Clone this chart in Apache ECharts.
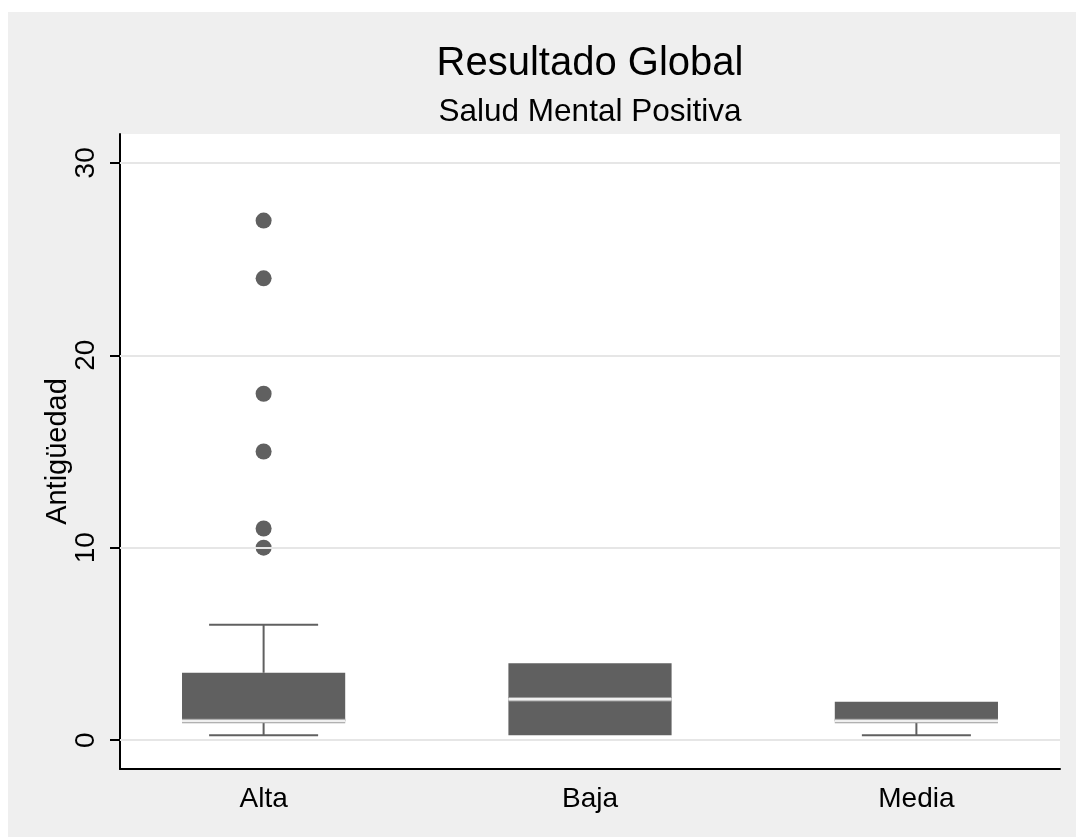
<!DOCTYPE html>
<html>
<head>
<meta charset="utf-8">
<script src="https://cdn.jsdelivr.net/npm/echarts@6/dist/echarts.min.js"></script>
<style>
  html, body { margin: 0; padding: 0; background: #ffffff; }
  #panel { position: absolute; left: 8px; top: 12px; width: 1068px; height: 825px; background: #efefef; }
  #chart { position: absolute; left: 0; top: 0; width: 1076px; height: 839px; }
</style>
</head>
<body>
<div id="panel"></div>
<div id="chart"></div>
<script>
// Antigüedad by "Salud Mental Positiva" group
const categories = ['Alta', 'Baja', 'Media'];
const whiskerLow = [0.25, 0.25, 0.25];
const quartile1 = [1, 0.25, 1];
const medians = [1, 2.125, 1];
const quartile3 = [3.5, 4, 2];
const whiskerHigh = [6, 4, 2];
const outlierGroup = [0, 0, 0, 0, 0, 0];
const outlierValues = [27, 24, 18, 15, 11, 10];
const yTicks = [0, 10, 20, 30];

const FONT = '"Liberation Sans", Arial, sans-serif';
const BOX = '#606060';

const boxData = categories.map((c, i) => [i, whiskerLow[i], quartile1[i], medians[i], quartile3[i], whiskerHigh[i]]);
const outliers = outlierValues.map((v, i) => [outlierGroup[i], v]);

function renderBox(params, api) {
  const x = api.value(0);
  const lo = api.coord([x, api.value(1)]);
  const q1 = api.coord([x, api.value(2)]);
  const md = api.coord([x, api.value(3)]);
  const q3 = api.coord([x, api.value(4)]);
  const hi = api.coord([x, api.value(5)]);
  const halfBox = api.size([0.25, 0])[0];
  const halfCap = api.size([0.167, 0])[0];
  const cx = q1[0];
  const lineStyle = { stroke: BOX, lineWidth: 2, fill: null };
  const children = [];
  if (api.value(5) > api.value(4)) {
    children.push({ type: 'line', shape: { x1: cx, y1: q3[1], x2: cx, y2: hi[1] }, style: lineStyle });
    children.push({ type: 'line', shape: { x1: cx - halfCap, y1: hi[1], x2: cx + halfCap, y2: hi[1] }, style: lineStyle });
  }
  if (api.value(1) < api.value(2)) {
    children.push({ type: 'line', shape: { x1: cx, y1: q1[1], x2: cx, y2: lo[1] }, style: lineStyle });
    children.push({ type: 'line', shape: { x1: cx - halfCap, y1: lo[1], x2: cx + halfCap, y2: lo[1] }, style: lineStyle });
  }
  children.push({ type: 'rect', shape: { x: cx - halfBox, y: q3[1], width: 2 * halfBox, height: q1[1] - q3[1] }, style: { fill: BOX } });
  children.push({ type: 'line', shape: { x1: cx - halfBox, y1: md[1], x2: cx + halfBox, y2: md[1] }, style: { stroke: '#9c9c9c', lineWidth: 4.5 } });
  children.push({ type: 'line', shape: { x1: cx - halfBox, y1: md[1], x2: cx + halfBox, y2: md[1] }, style: { stroke: '#f0f0f0', lineWidth: 2.5 } });
  return { type: 'group', children };
}

const chart = echarts.init(document.getElementById('chart'), null, { renderer: 'canvas' });
chart.setOption({
  backgroundColor: 'transparent',
  animation: false,
  textStyle: { fontFamily: FONT },
  graphic: [
    { type: 'text', x: 590, y: 63.5, style: { text: 'Resultado Global', font: '40px ' + FONT, fill: '#000', align: 'center', verticalAlign: 'middle' } },
    { type: 'text', x: 590, y: 112, style: { text: 'Salud Mental Positiva', font: '31.5px ' + FONT, fill: '#000', align: 'center', verticalAlign: 'middle' } }
  ],
  grid: { left: 120, right: 16, top: 134, bottom: 70, show: true, backgroundColor: '#ffffff', borderWidth: 0 },
  xAxis: {
    type: 'value', min: -0.44, max: 2.44,
    axisLine: { onZero: false, lineStyle: { color: '#000', width: 2 } },
    axisTick: { show: false },
    splitLine: { show: false },
    axisLabel: {
      customValues: [0, 1, 2],
      formatter: v => categories[Math.round(v)],
      fontSize: 28, color: '#000', fontFamily: FONT, margin: 16
    }
  },
  yAxis: {
    type: 'value', min: -1.5, max: 31.5,
    name: 'Antigüedad', nameLocation: 'middle', nameGap: 48, nameRotate: 90,
    nameMoveOverlap: false,
    nameTextStyle: { fontSize: 29, color: '#000', fontFamily: FONT },
    axisLine: { onZero: false, lineStyle: { color: '#000', width: 2 } },
    axisTick: { customValues: yTicks, length: 10, lineStyle: { color: '#000', width: 2 } },
    axisLabel: { customValues: yTicks, rotate: 90, fontSize: 28, color: '#000', fontFamily: FONT, margin: 20 },
    splitLine: { show: false }
  },
  series: [
    {
      type: 'line', data: [], z: 1, silent: true,
      markLine: {
        symbol: 'none', silent: true, label: { show: false },
        lineStyle: { color: '#e6e6e6', width: 2, type: 'solid' },
        data: yTicks.map(v => ({ yAxis: v }))
      }
    },
    { type: 'custom', data: boxData, renderItem: renderBox, z: 3, encode: { x: 0, y: [1, 2, 3, 4, 5] } },
    { type: 'scatter', data: outliers, symbol: 'circle', symbolSize: 16, itemStyle: { color: BOX, opacity: 1 }, z: 4 }
  ]
});
</script>
</body>
</html>
